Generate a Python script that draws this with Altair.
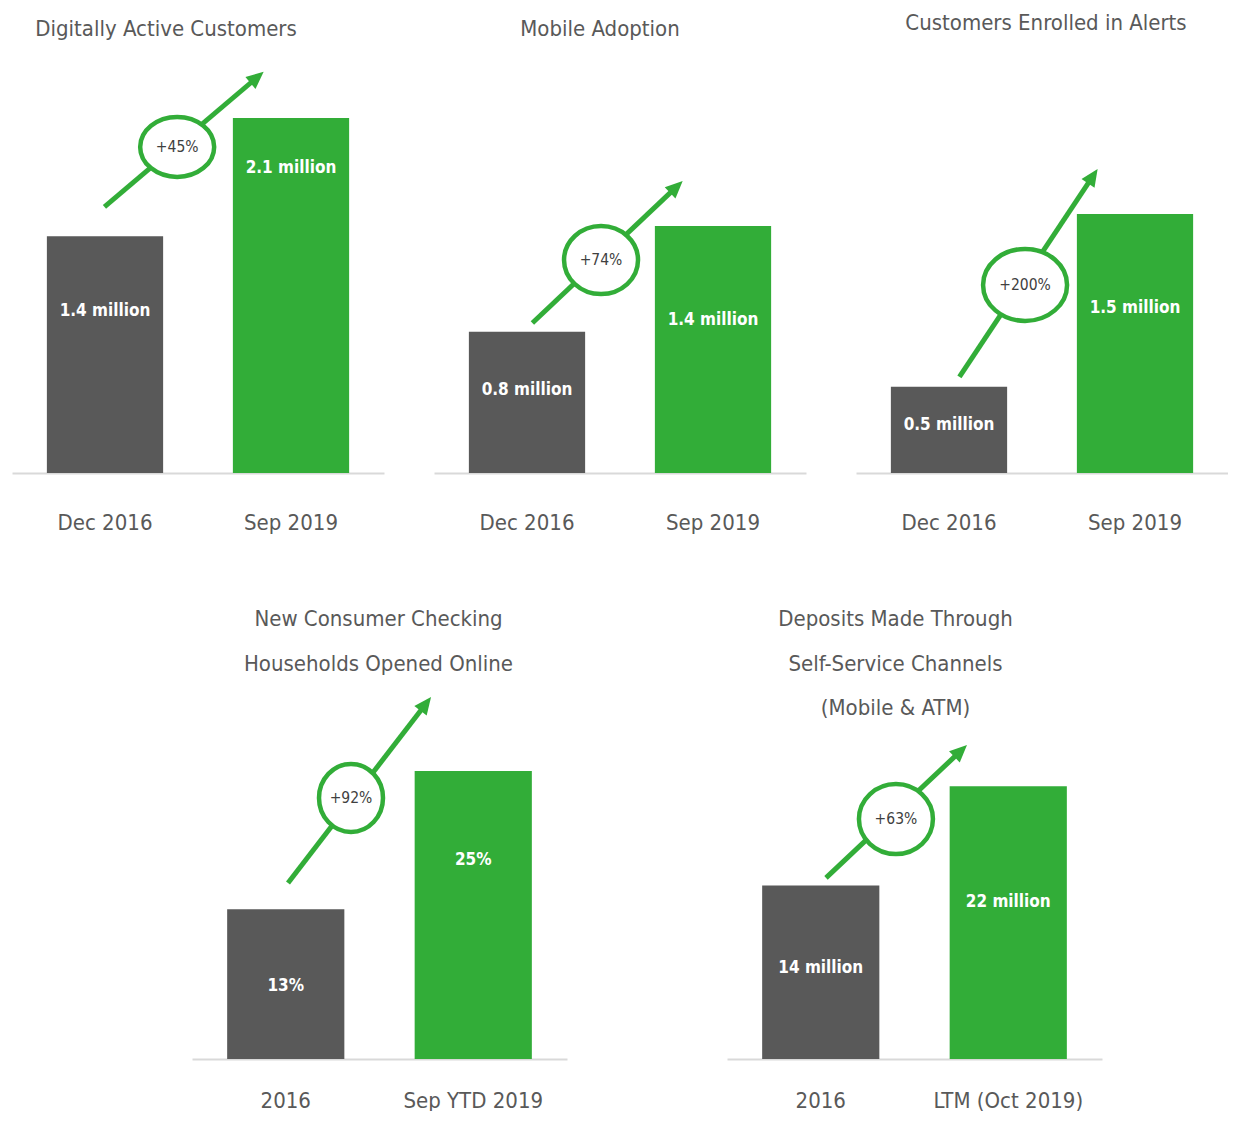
import math
import altair as alt
import pandas as pd

FONT = "Liberation Sans Narrow, Arial Narrow, DejaVu Sans Condensed, sans-serif"
GREEN = "#32AD38"
GRAY = "#595959"
TEXT_GRAY = "#595959"
PCT_GRAY = "#404040"
AXIS_LINE = "#D9D9D9"

# ---------------- data ----------------
titles = [
    ["Digitally Active Customers"],
    ["Mobile Adoption"],
    ["Customers Enrolled in Alerts"],
    ["New Consumer Checking", "Households Opened Online", " "],
    ["Deposits Made Through", "Self-Service Channels", "(Mobile & ATM)"],
]
periods = [
    ["Dec 2016", "Sep 2019"],
    ["Dec 2016", "Sep 2019"],
    ["Dec 2016", "Sep 2019"],
    ["2016", "Sep YTD 2019"],
    ["2016", "LTM (Oct 2019)"],
]
values = [[1.4, 2.1], [0.8, 1.4], [0.5, 1.5], [13, 25], [14, 22]]
value_labels = [
    ["1.4 million", "2.1 million"],
    ["0.8 million", "1.4 million"],
    ["0.5 million", "1.5 million"],
    ["13%", "25%"],
    ["14 million", "22 million"],
]
changes = ["+45%", "+74%", "+200%", "+92%", "+63%"]

# annotation geometry, in data units of each panel (x: 0..2 across the panel)
y_max = [2.443, 2.341, 2.391, 28.73, 26.69]
label_y = [[0.958, 1.804], [0.471, 0.867], [0.278, 0.955], [6.34, 17.27], [7.34, 12.66]]
arrow_tail = [(0.497, 1.574), (0.529, 0.850), (0.556, 0.556), (0.512, 15.28), (0.528, 14.60)]
arrow_tip = [(1.353, 2.373), (1.337, 1.655), (1.299, 1.760), (1.275, 31.42), (1.28, 25.32)]
badge_xy = [(0.888, 1.929), (0.898, 1.207), (0.909, 1.089), (0.848, 22.66), (0.901, 19.35)]
badge_wh = [(74, 60), (74, 68), (84, 72), (64, 68), (74, 70)]
title_dx = [-32, -20, 4, -1, -19]
title_dy = [4, 4, -2, 57, 26]
title_offset = [1, 1, 1, 12, 12]
label_pad = [49, 49, 49, 41, 41]

TOP_W, TOP_H = 372, 413
BOT_W, BOT_H = 375, 331

TITLE_FS = 22
AXIS_FS = 22
BAR_FS = 17
PCT_FS = 15.5

HEAD_PATH = "M0,0 L0.9,2 L-0.9,2 Z"


def ellipse_path(w, h):
    r = h / w
    return f"M-1,0 A1,{r:.3f} 0 1,1 1,0 A1,{r:.3f} 0 1,1 -1,0 Z"


def panel(i, width, height):
    cats = periods[i]
    df = pd.DataFrame({
        "period": cats,
        "value": values[i],
        "label": value_labels[i],
        "label_y": label_y[i],
        "kind": ["then", "now"],
    })
    ydom = alt.Scale(domain=[0, y_max[i]], nice=False, zero=True)
    band = alt.Scale(paddingInner=0.375, paddingOuter=0.1875)
    xband = alt.X(
        "period:N", sort=cats, scale=band,
        axis=alt.Axis(
            title=None, labelAngle=0, ticks=False, tickSize=0, grid=False,
            domainColor=AXIS_LINE, domainWidth=2,
            labelFont=FONT, labelFontSize=AXIS_FS, labelColor=TEXT_GRAY,
            labelPadding=label_pad[i], labelBaseline="middle",
        ),
    )
    bars = alt.Chart(df).mark_bar().encode(
        x=xband,
        y=alt.Y("value:Q", scale=ydom, axis=None),
        color=alt.Color("kind:N", scale=alt.Scale(domain=["then", "now"], range=[GRAY, GREEN]), legend=None),
    )
    labels = alt.Chart(df).mark_text(
        font=FONT, fontSize=BAR_FS, fontWeight="bold", color="white", baseline="middle"
    ).encode(
        x=alt.X("period:N", sort=cats, scale=band, axis=None),
        y=alt.Y("label_y:Q", scale=ydom, axis=None),
        text="label:N",
    )

    # arrow geometry (direction measured in pixels through the scales)
    sx = width / 2.0
    sy = height / y_max[i]
    tx, ty = arrow_tail[i]
    hx, hy = arrow_tip[i]
    dxp = (hx - tx) * sx
    dyp = (hy - ty) * sy
    length = math.hypot(dxp, dyp)
    ux, uy = dxp / length, dyp / length
    back = 10
    ex = hx - back * ux / sx
    ey = hy - back * uy / sy
    angle = math.degrees(math.atan2(dxp, dyp)) % 360

    xq = alt.Scale(domain=[0, 2], nice=False, zero=False)
    line_df = pd.DataFrame({"ax": [tx], "ay": [ty], "ax2": [ex], "ay2": [ey]})
    head_df = pd.DataFrame({"ax": [hx], "ay": [hy], "angle": [angle]})
    cx, cy = badge_xy[i]
    bw, bh = badge_wh[i]
    badge_df = pd.DataFrame({"ax": [cx], "ay": [cy], "txt": [changes[i]]})

    line = alt.Chart(line_df).mark_rule(color=GREEN, strokeWidth=5).encode(
        x=alt.X("ax:Q", scale=xq, axis=None),
        x2="ax2:Q",
        y=alt.Y("ay:Q", scale=ydom, axis=None),
        y2="ay2:Q",
    )
    head = alt.Chart(head_df).mark_point(
        shape=HEAD_PATH, size=300, filled=True, color=GREEN, opacity=1
    ).encode(
        x=alt.X("ax:Q", scale=xq, axis=None),
        y=alt.Y("ay:Q", scale=ydom, axis=None),
        angle=alt.Angle("angle:Q", scale=None),
    )
    ring = alt.Chart(badge_df).mark_point(
        shape=ellipse_path(bw, bh), size=bw * bw, filled=True,
        fill="white", stroke=GREEN, strokeWidth=4.5, opacity=1,
    ).encode(
        x=alt.X("ax:Q", scale=xq, axis=None),
        y=alt.Y("ay:Q", scale=ydom, axis=None),
    )
    pct = alt.Chart(badge_df).mark_text(
        font=FONT, fontSize=PCT_FS, color=PCT_GRAY, baseline="middle"
    ).encode(
        x=alt.X("ax:Q", scale=xq, axis=None),
        y=alt.Y("ay:Q", scale=ydom, axis=None),
        text="txt:N",
    )

    return alt.layer(bars, labels, line, head, ring, pct).resolve_scale(
        x="independent"
    ).properties(
        width=width, height=height,
        title=alt.TitleParams(
            text=titles[i], font=FONT, fontSize=TITLE_FS, fontWeight="normal",
            color=TEXT_GRAY, anchor="middle", frame="group", baseline="bottom",
            offset=title_offset[i], lineHeight=44.5, dx=title_dx[i], dy=title_dy[i],
        ),
    )


p1 = panel(0, TOP_W, TOP_H)
p2 = panel(1, TOP_W, TOP_H)
p3 = panel(2, TOP_W, TOP_H)
p4 = panel(3, BOT_W, BOT_H)
p5 = panel(4, BOT_W, BOT_H)

spacer = alt.Chart(pd.DataFrame({"s": [0]})).mark_point(opacity=0).encode(
    x=alt.X("s:Q", axis=None), y=alt.Y("s:Q", axis=None)
).properties(width=20, height=BOT_H)

row1 = alt.hconcat(p1, p2, p3, spacing=50, bounds="flush")
row2 = alt.hconcat(spacer, p4, p5, spacing=160, bounds="flush")

chart = alt.vconcat(row1, row2, spacing=75).properties(
    padding={"left": 4, "top": 4, "right": 0, "bottom": 0}
).configure_view(stroke=None)

chart.save("out.html", embed_options={"renderer": "svg", "actions": False})
